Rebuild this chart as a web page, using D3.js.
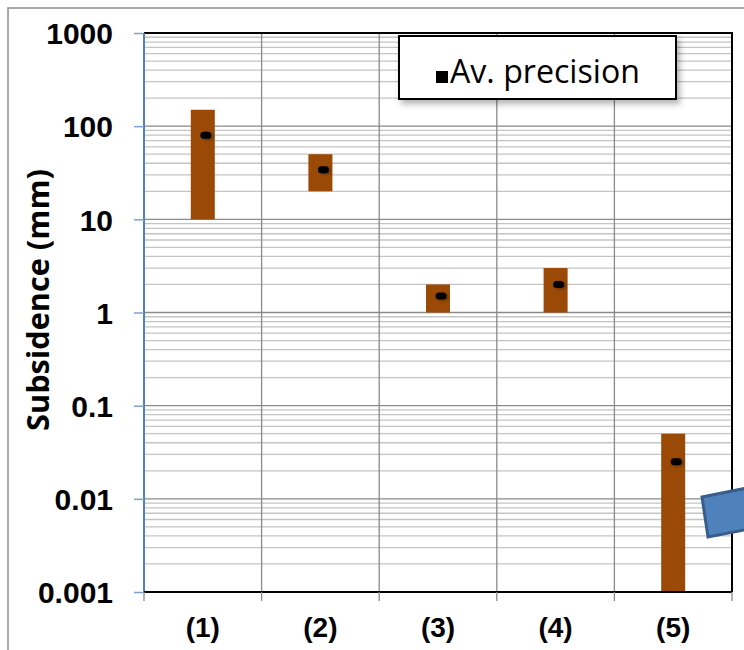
<!DOCTYPE html>
<html>
<head>
<meta charset="utf-8">
<script src="https://cdn.jsdelivr.net/npm/d3@7"></script>
<style>
  body { margin: 0; background: #fff; }
  svg { display: block; }
</style>
</head>
<body>
<svg id="chart" width="744" height="650"></svg>
<script>
// data
const categories = ["(1)", "(2)", "(3)", "(4)", "(5)"];
const rangeLow = [10, 20, 1, 1, 0.001];
const rangeHigh = [150, 50, 2, 3, 0.05];
const avPrecision = [80, 34, 1.5, 2, 0.025];
const yTicks = [0.001, 0.01, 0.1, 1, 10, 100, 1000];
const yTickLabels = ["0.001", "0.01", "0.1", "1", "10", "100", "1000"];

const svg = d3.select("#chart");
const plotL = 144, plotR = 732, plotT = 33, plotB = 592;

// fit a text element to a given width by scaling its font size
function fitWidth(sel, w) {
  const len = sel.node().getComputedTextLength();
  const fs = parseFloat(sel.attr("font-size"));
  sel.attr("font-size", fs * w / len);
}

// outer chart frame
svg.append("path")
  .attr("d", "M8,650 L8,8 L744,8")
  .attr("fill", "none")
  .attr("stroke", "#8c8c8c")
  .attr("stroke-width", 1.5);

const x = d3.scaleBand().domain(categories).range([plotL, plotR]);
const y = d3.scaleLog().domain([0.001, 1000]).range([plotB, plotT]);

// minor gridlines (2..9 in each decade)
const minor = [];
for (let e = -3; e < 3; e++) {
  for (let m = 2; m <= 9; m++) minor.push(m * Math.pow(10, e));
}
svg.append("g").selectAll("line")
  .data(minor)
  .enter().append("line")
  .attr("x1", plotL).attr("x2", plotR)
  .attr("y1", d => y(d)).attr("y2", d => y(d))
  .attr("stroke", "#c4c4c4")
  .attr("stroke-width", 1.3);

// major gridlines
svg.append("g").selectAll("line")
  .data(yTicks)
  .enter().append("line")
  .attr("x1", plotL).attr("x2", plotR)
  .attr("y1", d => y(d)).attr("y2", d => y(d))
  .attr("stroke", "#8a8a8a")
  .attr("stroke-width", 1.4);

// vertical gridlines at category edges
const edges = categories.map(c => x(c)).concat([plotR]);
svg.append("g").selectAll("line")
  .data(edges.slice(1))
  .enter().append("line")
  .attr("x1", d => d).attr("x2", d => d)
  .attr("y1", plotT).attr("y2", plotB)
  .attr("stroke", "#8a8a8a")
  .attr("stroke-width", 1.3);

// plot border: top/right black
svg.append("path")
  .attr("d", `M${plotL},${plotT} L${plotR},${plotT} L${plotR},${plotB}`)
  .attr("fill", "none")
  .attr("stroke", "#000")
  .attr("stroke-width", 2);

// bars
const barW = 24;
svg.append("g").selectAll("rect")
  .data(categories)
  .enter().append("rect")
  .attr("x", d => x(d) + x.bandwidth() / 2 - barW / 2)
  .attr("width", barW)
  .attr("y", (d, i) => y(rangeHigh[i]))
  .attr("height", (d, i) => y(rangeLow[i]) - y(rangeHigh[i]))
  .attr("fill", "#9a4a06");

// average precision markers
const defs = svg.append("defs");
const f = defs.append("filter").attr("id", "msh").attr("x", "-50%").attr("y", "-50%").attr("width", "200%").attr("height", "200%");
f.append("feDropShadow").attr("dx", 2).attr("dy", 1).attr("stdDeviation", 1.5)
  .attr("flood-color", "#000").attr("flood-opacity", 0.35);

svg.append("g").selectAll("rect")
  .data(categories)
  .enter().append("rect")
  .attr("x", d => x(d) + x.bandwidth() / 2 + 3 - 5.5)
  .attr("y", (d, i) => y(avPrecision[i]) - 3.5)
  .attr("width", 11).attr("height", 7)
  .attr("rx", 3.5)
  .attr("fill", "#000")
  .attr("filter", "url(#msh)");

// y axis (blue line with ticks)
const yAxis = svg.append("g")
  .attr("transform", `translate(${plotL},0)`)
  .call(d3.axisLeft(y).tickValues(yTicks).tickSize(10).tickFormat((d, i) => yTickLabels[i]));
yAxis.select(".domain").attr("stroke", "#4f81bd").attr("stroke-width", 2).attr("d", `M0,${plotT}V${plotB}`);
yAxis.selectAll(".tick line").attr("stroke", "#7ea1cf").attr("stroke-width", 1.5);
yAxis.selectAll(".tick text")
  .attr("x", -31)
  .attr("dy", "0.36em")
  .attr("font-family", "Liberation Sans, Arial, sans-serif")
  .attr("font-weight", "bold")
  .attr("font-size", 30)
  .attr("fill", "#000");

// x axis
const xAxis = svg.append("g")
  .attr("transform", `translate(0,${plotB})`);
xAxis.append("line")
  .attr("x1", plotL).attr("x2", plotR)
  .attr("stroke", "#000").attr("stroke-width", 2.2);
xAxis.selectAll(".xt")
  .data(edges)
  .enter().append("line")
  .attr("class", "xt")
  .attr("x1", d => d).attr("x2", d => d)
  .attr("y1", 0).attr("y2", 9)
  .attr("stroke", "#8a8a8a").attr("stroke-width", 1.3);
xAxis.selectAll("text")
  .data(categories)
  .enter().append("text")
  .attr("x", d => x(d) + x.bandwidth() / 2)
  .attr("y", 45)
  .attr("text-anchor", "middle")
  .attr("font-family", "Liberation Sans, Arial, sans-serif")
  .attr("font-weight", "bold")
  .attr("font-size", 28)
  .text(d => d);

// y title
const yTitle = svg.append("text")
  .attr("transform", `translate(49,300) rotate(-90)`)
  .attr("text-anchor", "middle")
  .attr("font-family", "Open Sans, sans-serif")
  .attr("font-weight", "bold")
  .attr("font-size", 24)
  .text("Subsidence (mm)");
fitWidth(yTitle, 262);

// legend
const lf = defs.append("filter").attr("id", "lsh").attr("x", "-10%").attr("y", "-20%").attr("width", "130%").attr("height", "160%");
lf.append("feDropShadow").attr("dx", 3).attr("dy", 4).attr("stdDeviation", 3)
  .attr("flood-color", "#000").attr("flood-opacity", 0.3);
const lg = svg.append("g");
lg.append("rect")
  .attr("x", 399).attr("y", 36).attr("width", 277).attr("height", 63)
  .attr("fill", "#fff").attr("stroke", "#000").attr("stroke-width", 2)
  .attr("filter", "url(#lsh)");
lg.append("rect")
  .attr("x", 436).attr("y", 71).attr("width", 12).attr("height", 12)
  .attr("fill", "#000");
const lt = lg.append("text")
  .attr("x", 450).attr("y", 83)
  .attr("font-family", "Open Sans, sans-serif")
  .attr("font-size", 30)
  .text("Av. precision");
fitWidth(lt, 190);

// blue callout shape at right edge
svg.append("polygon")
  .attr("points", "702,497 752,487 759,527 708,537")
  .attr("fill", "#4f81bd")
  .attr("stroke", "#385d8a")
  .attr("stroke-width", 3);
</script>
</body>
</html>
